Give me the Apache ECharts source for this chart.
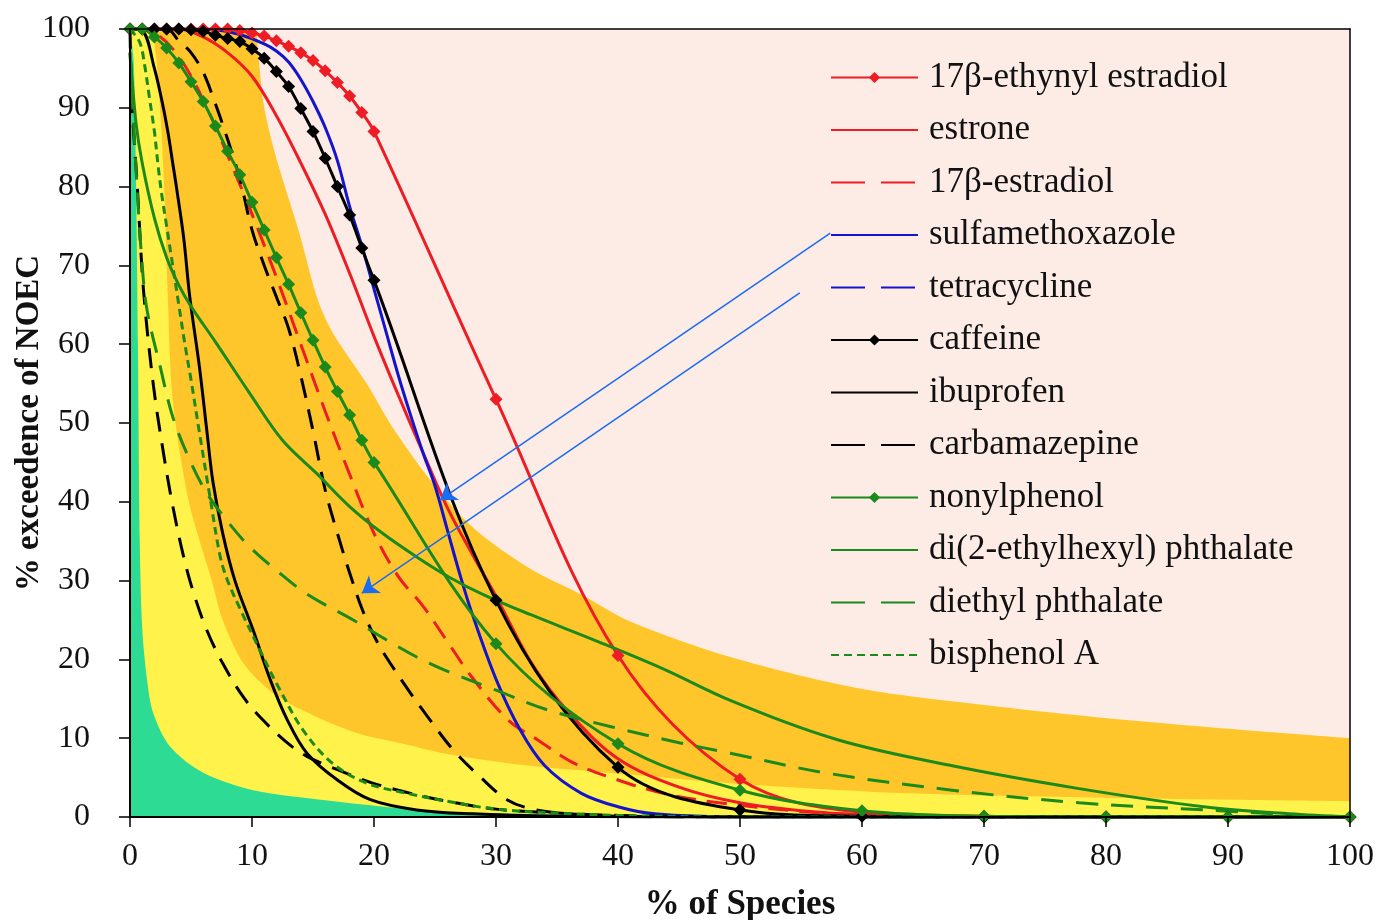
<!DOCTYPE html>
<html>
<head>
<meta charset="utf-8">
<script src="https://cdn.jsdelivr.net/npm/echarts@6/dist/echarts.min.js"></script>
<style>
  html, body { margin: 0; padding: 0; background: #fff; }
  #main { width: 1379px; height: 920px; }
</style>
</head>
<body>
<div id="main"></div>
<script>
// background bands (upper boundary of each filled zone), [% of species, % exceedence]
var orangeBand = [[0,100],[10.2,100],[10.5,97],[10.9,91],[11.5,86.5],[12.3,82],[13.9,74],[15.4,65.6],[16.6,61.5],[19.4,55],[21.5,49.5],[24.7,42.6],[28.2,36.6],[32.8,31.5],[36.9,28.3],[41,24.8],[49.2,20.3],[59.8,16.3],[70,14.2],[79,12.7],[90,11.2],[100,10]];
var yellowBand = [[0,100],[1.6,100],[2.1,97],[2.5,89],[2.8,80],[3.1,66],[3.5,53],[4.8,40.2],[6.7,30],[7.6,25],[9.3,19.5],[11.5,16],[14.2,13.5],[18.3,10.8],[22.4,9.3],[26,8],[32.8,6.5],[41,5.4],[50,4.2],[64,3],[81,2.4],[100,2]];
var greenBand = [[0,100],[0.3,96],[0.5,80],[0.65,60],[0.8,35],[1,24],[1.4,17.4],[1.9,13.2],[3.3,8.9],[6,5.6],[10.1,3.4],[15.6,2.2],[23.8,0.9],[30,0.5],[40,0.2],[60,0],[100,0]];

// compounds
var ethynylEstradiol = [[0,100],[1,100],[2,100],[3,100],[4,100],[5,100],[6,100],[7,100],[8,100],[9,99.8],[10,99.5],[11,99.1],[12,98.5],[13,97.8],[14,97],[15,96],[16,94.7],[17,93.2],[18,91.5],[19,89.4],[20,87],[30,53],[40,20.5],[50,4.8],[60,0.6],[70,0.1],[80,0],[90,0],[100,0]];
var estrone = [[0,100],[4,100],[6,99],[8,97],[10,94],[12,89],[14,83],[16,76.5],[18,69],[20,61],[22,53.5],[24,46.3],[26,39.3],[28,33.5],[30,28],[33,19.3],[36,13.2],[40,7.4],[45,3.8],[50,1.8],[55,0.8],[60,0.3],[70,0],[100,0]];
var estradiol = [[0,100],[2,99.5],[4,96.5],[6,91],[8,84],[10,76.5],[12,68.5],[14,60],[16,51.5],[18,43.5],[20,36],[22,30.5],[24,26.8],[26,22.3],[28,17.8],[31,12.3],[33.4,9.8],[36.3,6.9],[40,4.7],[43.7,3],[47.8,1.9],[55,0.7],[60,0.3],[70,0],[100,0]];
var sulfamethoxazole = [[0,100],[5,100],[7,99.9],[9,99.3],[11,98.1],[12,97.2],[13,95.8],[14,93.6],[15,90.8],[16,87.5],[17,83.3],[18,77.5],[19,72.5],[20,67],[21,61.5],[22,56],[23,51],[24,46.3],[25,42],[26,36.5],[27,31],[28,26],[30,17.5],[32,11],[34,6.5],[37,3],[40,1.3],[43,0.4],[50,0],[100,0]];
var tetracycline = [[0,100],[3,100],[4,98.5],[5,97],[6,94.5],[7,90.5],[8,86],[9,81],[10,74.5],[11,70],[12,66],[13,62],[14,56],[15,49],[16,41.5],[17,36],[18,31],[19,26.5],[20,23],[21,20.3],[23,15.7],[24.6,12.3],[26.5,8.5],[28.7,5.1],[30.9,2.2],[33,1],[36,0.4],[40,0.1],[50,0],[100,0]];
var caffeine = [[0,100],[1,100],[2,100],[3,100],[4,100],[5,99.9],[6,99.7],[7,99.2],[8,98.8],[9,98.4],[10,97.5],[11,96.3],[12,94.6],[13,92.7],[14,89.9],[15,87],[16,83.6],[17,80],[18,76.4],[19,72.2],[20,68.1],[30,27.5],[40,6.3],[50,0.9],[60,0.1],[70,0],[80,0],[90,0],[100,0]];
var ibuprofen = [[0,100],[1,99.8],[2,95],[2.6,91],[3.1,87],[3.5,83],[3.8,80],[4.4,73.5],[4.9,66],[5.7,57],[6.3,49],[6.8,42.5],[7.6,36],[8.6,30],[10.1,23.7],[11.5,17.4],[12.9,12.3],[14.5,8.1],[17,4.7],[19.7,2.2],[23.5,0.9],[28,0.4],[35,0.1],[45,0],[100,0]];
var carbamazepine = [[0,100],[0.15,91],[0.6,80],[1.1,67],[1.9,55],[2.7,46.6],[3.5,39.5],[4.4,33],[5.2,28.5],[6.3,23.7],[7.6,19.5],[9.3,15.2],[10.9,12.3],[12.9,9.4],[14.5,7.7],[17,6],[19.7,4.4],[23,3],[26,2],[30,1],[35,0.5],[40,0.2],[50,0],[100,0]];
var nonylphenol = [[0,100],[1,100],[2,99],[3,97.6],[4,95.7],[5,93.3],[6,90.8],[7,87.7],[8,84.5],[9,81.5],[10,78],[11,74.5],[12,71],[13,67.6],[14,64],[15,60.5],[16,57.1],[17,54],[18,51],[19,47.8],[20,45],[30,22],[40,9.3],[50,3.4],[60,0.8],[70,0.1],[80,0],[90,0],[100,0]];
var dehp = [[0,97],[0.5,88],[1,83],[2,76],[3,71],[4,67.5],[5,64.8],[7,60.3],[9.8,53.8],[12.5,47.8],[15.3,43.6],[18,39.4],[20.7,36],[23.5,33],[26.2,30.4],[29,28.2],[32.8,25.7],[38.3,22.3],[43.7,18.8],[49.2,14.8],[58,9.8],[67.4,6.5],[77.8,3.6],[88,1.3],[95,0.4],[100,0]];
var diethylPhthalate = [[0,97],[0.5,82],[1,70],[1.4,64.3],[2.5,57],[3.5,50.8],[4.9,45.3],[6.3,41.1],[7.9,37.7],[9.8,34.3],[12,31.3],[14.5,28.3],[18.3,25],[21,22.5],[23.5,20.3],[25.7,18.7],[30,16.1],[34.2,13.6],[39.6,11.4],[45.1,9.4],[49.2,8.1],[57,5.6],[67.4,3.4],[77.8,1.8],[88,0.9],[94,0.4]];
var bisphenolA = [[0,100],[0.8,98.3],[1.2,95.4],[1.6,91.2],[2,87],[2.3,82.7],[2.6,79],[3,75],[3.5,70],[4,65],[4.5,60],[5,55.5],[5.7,48.7],[6.6,40.2],[7.4,33],[8,30],[9,26.5],[10.7,21],[12.3,16.1],[14.2,11],[16.6,6.8],[19.4,4.3],[22.7,3],[26,2],[30,1],[35,0.5],[40,0.2],[50,0],[100,0]];

// annotation arrows: from legend entry to curve
var arrowLines = [[[57.4,74.1],[25.4,40.2]], [[54.9,66.5],[19.0,28.4]]];

var RED = '#ee1c24', BLUE = '#1414cc', BLACK = '#000000', GREEN = '#1b8a1b';
var FONT = '"Liberation Serif", "Times New Roman", serif';

var myChart = echarts.init(document.getElementById('main'));

function band(data, color) {
  return {
    type: 'line', data: data, smooth: 0.3, symbol: 'none', silent: true, z: 1,
    lineStyle: { width: 0 }, areaStyle: { color: color, opacity: 1 }
  };
}

function curve(name, data, color, dash, marker) {
  return {
    name: name, type: 'line', data: data, z: 3,
    smooth: 0.35,
    symbol: marker ? 'diamond' : 'none', symbolSize: 13, showSymbol: !!marker,
    lineStyle: { color: color, width: 3, type: dash || 'solid' },
    itemStyle: { color: color },
    emphasis: { disabled: true }
  };
}

var series = [
  band(orangeBand, '#fec62a'),
  band(yellowBand, '#fff24a'),
  band(greenBand, '#2edb95'),
  curve('17β-ethynyl estradiol', ethynylEstradiol, RED, null, true),
  curve('estrone', estrone, RED),
  curve('17β-estradiol', estradiol, RED, [20, 11]),
  curve('sulfamethoxazole', sulfamethoxazole, BLUE),
  curve('tetracycline', tetracycline, BLACK, [20, 12]),
  curve('caffeine', caffeine, BLACK, null, true),
  curve('ibuprofen', ibuprofen, BLACK),
  curve('carbamazepine', carbamazepine, BLACK, [20, 12]),
  curve('nonylphenol', nonylphenol, GREEN, null, true),
  curve('di(2-ethylhexyl) phthalate', dehp, GREEN),
  curve('diethyl phthalate', diethylPhthalate, GREEN, [22, 13]),
  curve('bisphenol A', bisphenolA, GREEN, [8, 5])
];

// arrows
series.push({
  type: 'line', data: [], silent: true, z: 6,
  markLine: {
    silent: true, symbol: ['none', 'arrow'], symbolSize: 16,
    label: { show: false },
    lineStyle: { color: '#1a6cf0', width: 1.5, type: 'solid' },
    data: arrowLines.map(function (a) {
      return [{ coord: a[0] }, { coord: a[1] }];
    })
  }
});

var legendNames = ['17β-ethynyl estradiol','estrone','17β-estradiol','sulfamethoxazole','tetracycline','caffeine','ibuprofen','carbamazepine','nonylphenol','di(2-ethylhexyl) phthalate','diethyl phthalate','bisphenol A'];
var markerNames = ['17β-ethynyl estradiol','caffeine','nonylphenol'];
var longDashNames = ['17β-estradiol','tetracycline','carbamazepine','diethyl phthalate'];

var option = {
  animation: false,
  backgroundColor: '#fff',
  grid: {
    left: 130, right: 29, top: 29, bottom: 103,
    outerBoundsMode: 'none', containLabel: false,
    show: true, backgroundColor: '#fdebe5', borderWidth: 0
  },
  legend: {
    orient: 'vertical', left: 825, top: 55,
    itemWidth: 87, itemHeight: 14, itemGap: 17.5,
    textStyle: { fontFamily: FONT, fontSize: 35, color: '#111', lineHeight: 34, padding: [0, 0, 0, 6] },
    data: legendNames.map(function (n) {
      var item = { name: n };
      if (markerNames.indexOf(n) < 0) item.itemStyle = { opacity: 0 };
      if (longDashNames.indexOf(n) >= 0) item.lineStyle = { type: [34, 16] };
      if (n === 'tetracycline') item.lineStyle.color = BLUE;
      return item;
    })
  },
  xAxis: [{
    type: 'value', min: 0, max: 100, interval: 10, z: 10,
    name: '% of Species', nameLocation: 'middle', nameGap: 70,
    nameTextStyle: { fontFamily: FONT, fontSize: 35, fontWeight: 'bold', color: '#111' },
    axisLine: { show: true, lineStyle: { color: '#000', width: 2 } },
    axisTick: { show: true, length: 10, lineStyle: { color: '#000', width: 1.5 } },
    axisLabel: { fontFamily: FONT, fontSize: 32, color: '#111', margin: 24 },
    splitLine: { show: false }
  }, {
    type: 'value', min: 0, max: 100, position: 'top', z: 10,
    axisLine: { show: true, onZero: false, lineStyle: { color: '#000', width: 1.5 } },
    axisTick: { show: false }, axisLabel: { show: false }, splitLine: { show: false }
  }],
  yAxis: [{
    type: 'value', min: 0, max: 100, interval: 10, z: 10,
    name: '% exceedence of NOEC', nameLocation: 'middle', nameGap: 84, nameRotate: 90,
    nameMoveOverlap: false,
    nameTextStyle: { fontFamily: FONT, fontSize: 33, fontWeight: 'bold', color: '#111' },
    axisLine: { show: true, lineStyle: { color: '#000', width: 2 } },
    axisTick: { show: true, length: 11, lineStyle: { color: '#000', width: 1.5 } },
    axisLabel: { fontFamily: FONT, fontSize: 32, color: '#111', margin: 40 },
    splitLine: { show: false }
  }, {
    type: 'value', min: 0, max: 100, position: 'right', z: 10,
    axisLine: { show: true, onZero: false, lineStyle: { color: '#000', width: 1.5 } },
    axisTick: { show: false }, axisLabel: { show: false }, splitLine: { show: false }
  }],
  series: series
};

myChart.setOption(option);
</script>
</body>
</html>
